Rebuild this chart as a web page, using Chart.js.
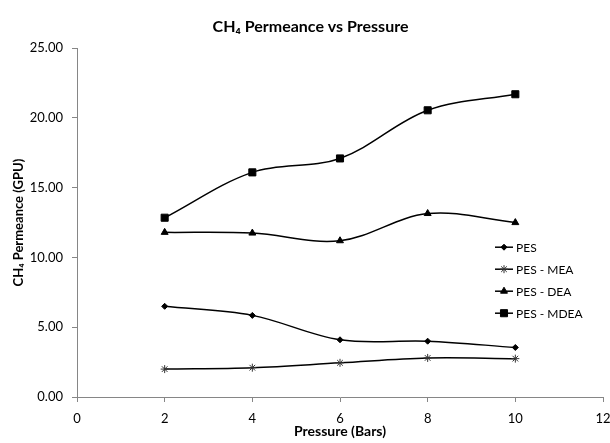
<!DOCTYPE html>
<html>
<head>
<meta charset="utf-8">
<script src="https://cdn.jsdelivr.net/npm/chart.js@4"></script>
<style>
  html, body { margin: 0; padding: 0; background: #fff; }
</style>
</head>
<body>
<canvas id="chart" width="610" height="443"></canvas>
<script>
'use strict'

// pressure (bars)
var pressures = [2, 4, 6, 8, 10];
// CH4 permeance (GPU) per membrane
var pes     = [6.50, 5.85, 4.10, 4.00, 3.55];
var pesMea  = [2.00, 2.10, 2.45, 2.80, 2.75];
var pesDea  = [11.80, 11.75, 11.20, 13.15, 12.50];
var pesMdea = [12.85, 16.10, 17.10, 20.55, 21.70];

var seriesNames = ['PES', 'PES - MEA', 'PES - DEA', 'PES - MDEA'];
var xTicks = [0, 2, 4, 6, 8, 10, 12];
var yTicks = [0, 5, 10, 15, 20, 25];

var FONT = 'Lato, "Open Sans", sans-serif';
var AXIS = '#868686';

function points(values) {
  return values.map(function (v, i) { return { x: pressures[i], y: v }; });
}

function series(label, values, style, radius, color) {
  return {
    label: label,
    data: points(values),
    borderColor: '#000',
    borderWidth: 1.5,
    tension: 0.35,
    pointStyle: style,
    pointRadius: radius,
    pointHoverRadius: radius,
    pointBackgroundColor: color,
    pointBorderColor: color,
    pointBorderWidth: 1
  };
}

// legend drawn inside the plot, line sample + marker like the spreadsheet one
var insideLegend = {
  id: 'insideLegend',
  afterDatasetsDraw: function (chart) {
    var ctx = chart.ctx;
    var area = chart.chartArea;
    var x0 = area.right - 108;
    var y0 = area.top + 199;
    chart.data.datasets.forEach(function (ds, i) {
      var y = y0 + i * 22;
      ctx.save();
      ctx.strokeStyle = ds.borderColor;
      ctx.lineWidth = ds.borderWidth;
      ctx.beginPath();
      ctx.moveTo(x0, y);
      ctx.lineTo(x0 + 18, y);
      ctx.stroke();
      ctx.fillStyle = ds.pointBackgroundColor;
      ctx.strokeStyle = ds.pointBorderColor;
      ctx.lineWidth = 1;
      Chart.helpers.drawPoint(ctx, {
        pointStyle: ds.pointStyle, radius: ds.pointRadius, rotation: 0, borderWidth: 1
      }, x0 + 9, y);
      ctx.fillStyle = '#000';
      ctx.font = '12px ' + FONT;
      ctx.textBaseline = 'middle';
      ctx.textAlign = 'left';
      ctx.fillText(ds.label, x0 + 21, y + 1);
      ctx.restore();
    });
  }
};

new Chart(document.getElementById('chart').getContext('2d'), {
  type: 'line',
  data: {
    datasets: [
      series(seriesNames[0], pes, 'rectRot', 3, '#000'),
      series(seriesNames[1], pesMea, 'star', 4, '#333'),
      series(seriesNames[2], pesDea, 'triangle', 4, '#000'),
      series(seriesNames[3], pesMdea, 'rect', 5, '#000')
    ]
  },
  options: {
    responsive: false,
    animation: false,
    layout: { padding: { left: 11, right: 0, top: 0, bottom: 3 } },
    plugins: {
      legend: { display: false },
      tooltip: { enabled: false },
      title: {
        display: true,
        text: 'CH\u2084 Permeance vs Pressure',
        color: '#000',
        font: { family: FONT, size: 16, weight: 'bold' },
        padding: { top: 17, bottom: 12 }
      }
    },
    scales: {
      x: {
        type: 'linear',
        min: xTicks[0],
        max: xTicks[xTicks.length - 1],
        afterBuildTicks: function (scale) {
          scale.ticks = xTicks.map(function (v) { return { value: v }; });
        },
        afterFit: function (scale) {
          scale.height = 43;
          scale.paddingLeft = 0;
          scale.paddingRight = 7;
        },
        border: { color: AXIS, width: 1 },
        grid: { drawOnChartArea: false, drawTicks: true, tickLength: 5, color: AXIS },
        ticks: { color: '#000', padding: 9, font: { family: FONT, size: 13 } },
        title: {
          display: true,
          text: 'Pressure (Bars)',
          color: '#000',
          padding: { top: 0, bottom: 0 },
          font: { family: FONT, size: 14, weight: 'bold' }
        }
      },
      y: {
        min: yTicks[0],
        max: yTicks[yTicks.length - 1],
        afterBuildTicks: function (scale) {
          scale.ticks = yTicks.map(function (v) { return { value: v }; });
        },
        afterFit: function (scale) { scale.width = 66; },
        border: { color: AXIS, width: 1 },
        grid: { drawOnChartArea: false, drawTicks: true, tickLength: 5, color: AXIS },
        ticks: {
          color: '#000',
          padding: 9,
          font: { family: FONT, size: 13 },
          callback: function (v) { return Number(v).toFixed(2); }
        },
        title: {
          display: true,
          text: 'CH\u2084 Permeance (GPU)',
          color: '#000',
          padding: { top: 0, bottom: 0 },
          font: { family: FONT, size: 13, weight: 'bold' }
        }
      }
    }
  },
  plugins: [insideLegend]
});
</script>
</body>
</html>
